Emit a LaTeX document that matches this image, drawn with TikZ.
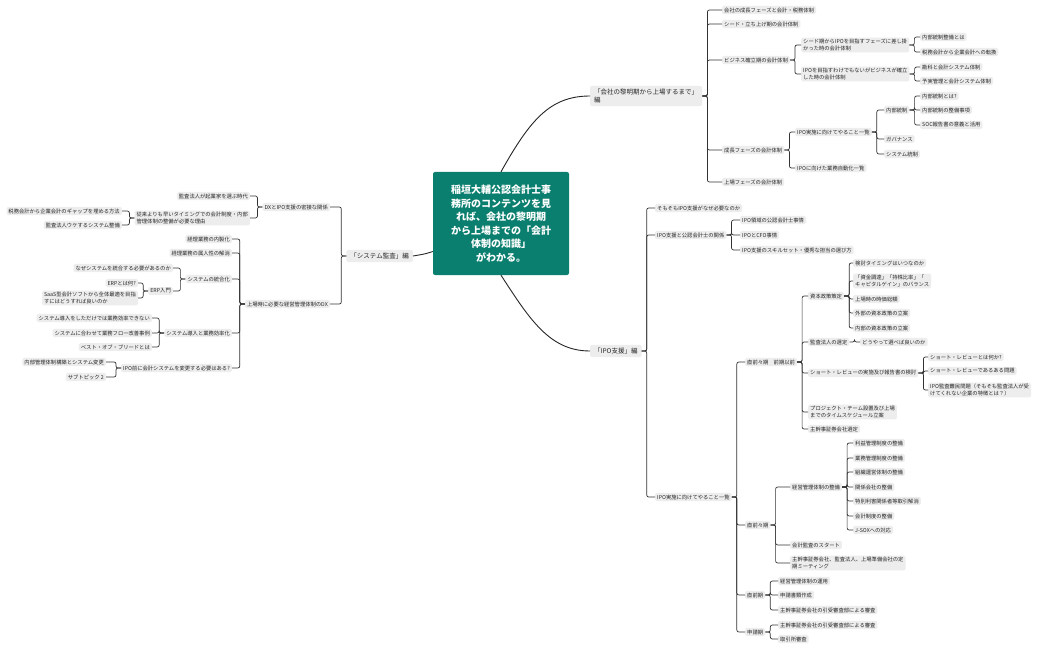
\documentclass[tikz,border=0pt]{standalone}
\usepackage{fontspec}
\setmainfont{Noto Sans CJK JP}
\definecolor{ctr}{HTML}{0B7F6F}
\begin{document}
\begin{tikzpicture}[x=1pt,y=-1pt,
  n/.style={fill=black!7,rounded corners=1.5pt,inner xsep=2pt,inner ysep=1.6pt,align=left,font=\fontsize{5.3}{6.6}\selectfont,text=black!85},
  br/.style={n,font=\fontsize{6.5}{8}\selectfont,inner xsep=4pt,inner ysep=3pt},
  conn/.style={draw=black!80,line width=0.7pt,rounded corners=2pt},
  main/.style={draw=black!85,line width=0.9pt}]
\useasboundingbox[fill=white] (0,0) rectangle (1050,650);
\newcommand\rb[2]{\draw[conn] (#1.east) -- ++(5,0) |- (#2.west);}
\newcommand\lb[2]{\draw[conn] (#1.west) -- ++(-5,0) |- (#2.east);}
% center
\node[fill=ctr,rounded corners=2pt,text=white,align=center,font=\fontsize{10}{13.5}\selectfont\bfseries,minimum width=136,minimum height=103] (c) at (501,223.5) {稲垣大輔公認会計士事\\務所のコンテンツを見\\れば、会社の黎明期\\から上場までの「会計\\体制の知識」\\がわかる。};
% branch 1
\node[br,anchor=west] (A) at (590,96) {「会社の黎明期から上場するまで」\\編};
\node[n,anchor=west] (a1) at (722,10) {会社の成長フェーズと会計・税務体制};
\node[n,anchor=west] (a2) at (722,24) {シード・立ち上げ期の会計体制};
\node[n,anchor=west] (a3) at (722,60) {ビジネス確立期の会計体制};
\node[n,anchor=west] (a31) at (801,45) {シード期からIPOを目指すフェーズに差し掛\\かった時の会計体制};
\node[n,anchor=west] (a311) at (920,37) {内部統制整備とは};
\node[n,anchor=west] (a312) at (920,52) {税務会計から企業会計への転換};
\node[n,anchor=west] (a32) at (801,74) {IPOを目指すわけでもないがビジネスが確立\\した時の会計体制};
\node[n,anchor=west] (a321) at (920,67) {勘科と会計システム体制};
\node[n,anchor=west] (a322) at (920,81) {予実管理と会計システム体制};
\node[n,anchor=west] (a4) at (722,150) {成長フェーズの会計体制};
\node[n,anchor=west] (a41) at (795,132) {IPO実施に向けてやること一覧};
\node[n,anchor=west] (a411) at (884,110) {内部統制};
\node[n,anchor=west] (a4111) at (920,96) {内部統制とは?};
\node[n,anchor=west] (a4112) at (920,110) {内部統制の整備事項};
\node[n,anchor=west] (a4113) at (920,125) {SOC報告書の意義と活用};
\node[n,anchor=west] (a412) at (884,139) {ガバナンス};
\node[n,anchor=west] (a413) at (884,154) {システム統制};
\node[n,anchor=west] (a42) at (795,168) {IPOに向けた業務自動化一覧};
\node[n,anchor=west] (a5) at (722,182) {上場フェーズの会計体制};
\foreach \x in {a1,a2,a3,a4,a5} {\rb{A}{\x}}
\foreach \x in {a31,a32} {\rb{a3}{\x}}
\foreach \x in {a311,a312} {\rb{a31}{\x}}
\foreach \x in {a321,a322} {\rb{a32}{\x}}
\foreach \x in {a41,a42} {\rb{a4}{\x}}
\foreach \x in {a411,a412,a413} {\rb{a41}{\x}}
\foreach \x in {a4111,a4112,a4113} {\rb{a411}{\x}}
% branch 2
\node[br,anchor=west] (B) at (590,351) {「IPO支援」編};
\node[n,anchor=west] (b1) at (655,208) {そもそもIPO支援がなぜ必要なのか};
\node[n,anchor=west] (b2) at (655,235) {IPO支援と公認会計士の関係};
\node[n,anchor=west] (b21) at (740,220) {IPO領域の公認会計士事情};
\node[n,anchor=west] (b22) at (740,235) {IPOとCFO事情};
\node[n,anchor=west] (b23) at (740,250) {IPO支援のスキルセット・優秀な担当の選び方};
\node[n,anchor=west] (b3) at (655,497) {IPO実施に向けてやること一覧};
\node[n,anchor=west] (p1) at (745,362) {直前々期　前期以前};
\node[n,anchor=west] (p11) at (808,296) {資本政策策定};
\node[n,anchor=west] (p111) at (853,263) {検討タイミングはいつなのか};
\node[n,anchor=west] (p112) at (853,281) {「資金調達」「持株比率」「\\キャピタルゲイン」のバランス};
\node[n,anchor=west] (p113) at (853,299) {上場時の時価総額};
\node[n,anchor=west] (p114) at (853,313) {外部の資本政策の立案};
\node[n,anchor=west] (p115) at (853,328) {内部の資本政策の立案};
\node[n,anchor=west] (p12) at (808,342) {監査法人の選定};
\node[n,anchor=west] (p121) at (860,342) {どうやって選べば良いのか};
\node[n,anchor=west] (p13) at (808,373) {ショート・レビューの実施及び報告書の検討};
\node[n,anchor=west] (p131) at (928,357) {ショート・レビューとは何か?};
\node[n,anchor=west] (p132) at (928,371) {ショート・レビューであるある問題};
\node[n,anchor=west] (p133) at (928,390) {IPO監査難民問題（そもそも監査法人が受\\けてくれない企業の特徴とは？）};
\node[n,anchor=west] (p14) at (808,412) {プロジェクト・チーム設置及び上場\\までのタイムスケジュール立案};
\node[n,anchor=west] (p15) at (808,429) {主幹事証券会社選定};
\node[n,anchor=west] (p2) at (745,525) {直前々期};
\node[n,anchor=west] (p21) at (790,487) {経営管理体制の整備};
\node[n,anchor=west] (p211) at (853,443) {利益管理制度の整備};
\node[n,anchor=west] (p212) at (853,458) {業務管理制度の整備};
\node[n,anchor=west] (p213) at (853,472) {組織運営体制の整備};
\node[n,anchor=west] (p214) at (853,487) {関係会社の整備};
\node[n,anchor=west] (p215) at (853,501) {特別利害関係者等取引解消};
\node[n,anchor=west] (p216) at (853,516) {会計制度の整備};
\node[n,anchor=west] (p217) at (853,530) {J-SOXへの対応};
\node[n,anchor=west] (p22) at (790,545) {会計監査のスタート};
\node[n,anchor=west] (p23) at (790,563) {主幹事証券会社、監査法人、上場準備会社の定\\期ミーティング};
\node[n,anchor=west] (p3) at (745,595) {直前期};
\node[n,anchor=west] (p31) at (778,581) {経営管理体制の運用};
\node[n,anchor=west] (p32) at (778,595) {申請書類作成};
\node[n,anchor=west] (p33) at (778,610) {主幹事証券会社の引受審査部による審査};
\node[n,anchor=west] (p4) at (745,632) {申請期};
\node[n,anchor=west] (p41) at (778,625) {主幹事証券会社の引受審査部による審査};
\node[n,anchor=west] (p42) at (778,639) {取引所審査};
\foreach \x in {b1,b2,b3} {\rb{B}{\x}}
\foreach \x in {b21,b22,b23} {\rb{b2}{\x}}
\foreach \x in {p1,p2,p3,p4} {\rb{b3}{\x}}
\foreach \x in {p11,p12,p13,p14,p15} {\rb{p1}{\x}}
\foreach \x in {p111,p112,p113,p114,p115} {\rb{p11}{\x}}
\rb{p12}{p121}
\foreach \x in {p131,p132,p133} {\rb{p13}{\x}}
\foreach \x in {p21,p22,p23} {\rb{p2}{\x}}
\foreach \x in {p211,p212,p213,p214,p215,p216,p217} {\rb{p21}{\x}}
\foreach \x in {p31,p32,p33} {\rb{p3}{\x}}
\foreach \x in {p41,p42} {\rb{p4}{\x}}
% branch 3 (left)
\node[br,anchor=east] (C) at (413,256) {「システム監査」編};
\node[n,anchor=east] (c1) at (330,207) {DXとIPO支援の密接な関係};
\node[n,anchor=east] (c11) at (250,196) {監査法人が起業家を選ぶ時代};
\node[n,anchor=east] (c12) at (250,218) {従来よりも早いタイミングでの会計制度・内部\\管理体制の整備が必要な理由};
\node[n,anchor=east] (c121) at (122,211) {税務会計から企業会計のギャップを埋める方法};
\node[n,anchor=east] (c122) at (122,225) {監査法人ウケするシステム整備};
\node[n,anchor=east] (c2) at (330,304) {上場時に必要な経営管理体制のDX};
\node[n,anchor=east] (c21) at (232,239) {経理業務の内製化};
\node[n,anchor=east] (c22) at (232,253) {経理業務の属人性の解消};
\node[n,anchor=east] (c23) at (232,279) {システムの統合化};
\node[n,anchor=east] (c231) at (173,268) {なぜシステムを統合する必要があるのか};
\node[n,anchor=east] (c232) at (173,291) {ERP入門};
\node[n,anchor=east] (c2321) at (138,283) {ERPとは何?};
\node[n,anchor=east] (c2322) at (138,298) {SaaS型会計ソフトから全体最適を目指\\すにはどうすれば良いのか};
\node[n,anchor=east] (c24) at (232,333) {システム導入と業務効率化};
\node[n,anchor=east] (c241) at (152,318) {システム導入をしただけでは業務効率できない};
\node[n,anchor=east] (c242) at (152,333) {システムに合わせて業務フロー改善事例};
\node[n,anchor=east] (c243) at (152,347) {ベスト・オブ・ブリードとは};
\node[n,anchor=east] (c25) at (232,368) {IPO前に会計システムを変更する必要はある?};
\node[n,anchor=east] (c251) at (106,362) {内部管理体制構築とシステム変更};
\node[n,anchor=east] (c252) at (106,377) {サブトピック 2};
\foreach \x in {c1,c2} {\lb{C}{\x}}
\foreach \x in {c11,c12} {\lb{c1}{\x}}
\foreach \x in {c121,c122} {\lb{c12}{\x}}
\foreach \x in {c21,c22,c23,c24,c25} {\lb{c2}{\x}}
\foreach \x in {c231,c232} {\lb{c23}{\x}}
\foreach \x in {c2321,c2322} {\lb{c232}{\x}}
\foreach \x in {c241,c242,c243} {\lb{c24}{\x}}
\foreach \x in {c251,c252} {\lb{c25}{\x}}
% main curves
\draw[main] (c.north) .. controls (530,120) and (550,96) .. (A.west);
\draw[main] (c.south) .. controls (530,320) and (550,351) .. (B.west);
\draw[main] (c.west) ++(0,28) .. controls (425,254) .. (C.east);
\end{tikzpicture}
\end{document}
